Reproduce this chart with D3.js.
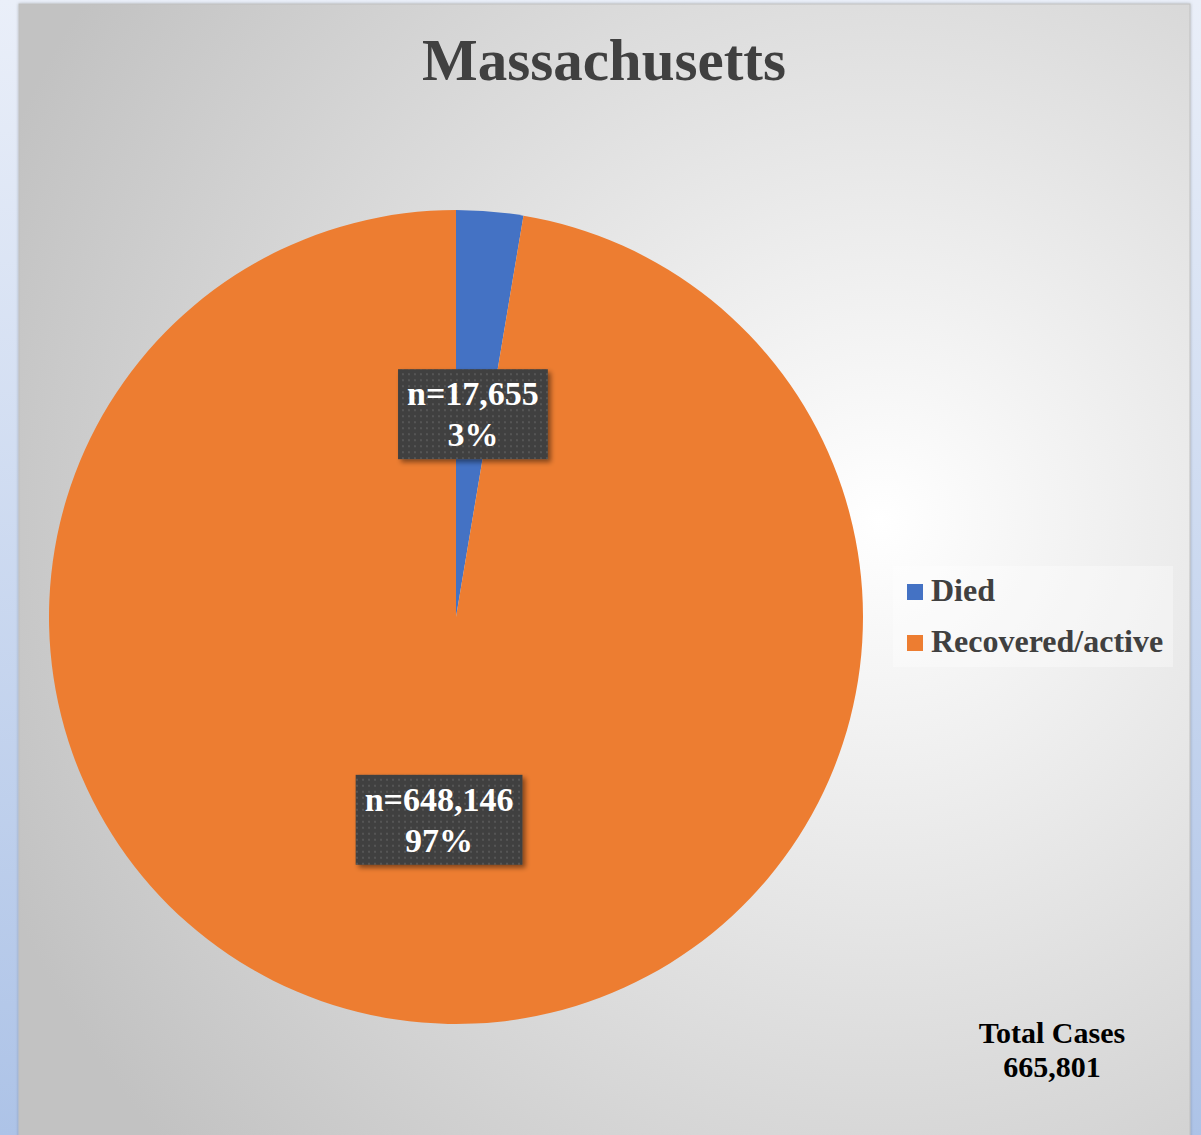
<!DOCTYPE html>
<html>
<head>
<meta charset="utf-8">
<script src="https://cdn.jsdelivr.net/npm/d3@7"></script>
<style>
  html, body { margin: 0; padding: 0; background: #e9eef8; }
  svg { display: block; }
  text { font-family: 'Liberation Serif', 'Times New Roman', serif; font-weight: bold; }
</style>
</head>
<body>
<svg width="1201" height="1135"></svg>
<script>
const categories = ['Died', 'Recovered/active'];
const counts = [17655, 648146];
const percents = ['3%', '97%'];
const colors = ['#4472C4', '#ED7D31'];
const title = 'Massachusetts';
const totalLabel = ['Total Cases', '665,801'];

const svg = d3.select('svg');
const width = +svg.attr('width');
const height = +svg.attr('height');

const defs = svg.append('defs');

// page background
const bg = defs.append('linearGradient').attr('id', 'bg')
  .attr('x1', 0).attr('y1', 0).attr('x2', 0).attr('y2', 1);
bg.append('stop').attr('offset', '0%').attr('stop-color', '#eaeff9');
bg.append('stop').attr('offset', '100%').attr('stop-color', '#adc3e7');

// panel gradient
const pg = defs.append('radialGradient').attr('id', 'panel')
  .attr('gradientUnits', 'userSpaceOnUse')
  .attr('cx', 880).attr('cy', 520).attr('r', 950);
pg.append('stop').attr('offset', '0%').attr('stop-color', '#ffffff');
pg.append('stop').attr('offset', '100%').attr('stop-color', '#c2c2c2');

// dotted label background
const pat = defs.append('pattern').attr('id', 'dots')
  .attr('patternUnits', 'userSpaceOnUse')
  .attr('width', 6).attr('height', 6);
pat.append('rect').attr('width', 6).attr('height', 6).attr('fill', '#404040');
pat.append('rect').attr('x', 1).attr('y', 1).attr('width', 2).attr('height', 2).attr('fill', '#555555');

const shadow = defs.append('filter').attr('id', 'shadow')
  .attr('x', '-20%').attr('y', '-20%').attr('width', '150%').attr('height', '150%');
shadow.append('feDropShadow').attr('dx', 3).attr('dy', 3).attr('stdDeviation', 2.5)
  .attr('flood-color', '#000').attr('flood-opacity', 0.45);

const panelShadow = defs.append('filter').attr('id', 'pshadow')
  .attr('x', '-5%').attr('y', '-5%').attr('width', '110%').attr('height', '110%');
panelShadow.append('feDropShadow').attr('dx', 0).attr('dy', 0).attr('stdDeviation', 1.5)
  .attr('flood-color', '#000').attr('flood-opacity', 0.25);

svg.append('rect').attr('width', width).attr('height', height).attr('fill', 'url(#bg)');

const panel = { x: 19, y: 4, w: 1171, h: 1140 };
svg.append('rect')
  .attr('x', panel.x).attr('y', panel.y)
  .attr('width', panel.w).attr('height', panel.h)
  .attr('fill', 'url(#panel)')
  .attr('stroke', '#c0c0c0')
  .attr('filter', 'url(#pshadow)');

// title
svg.append('text')
  .attr('x', 604).attr('y', 80)
  .attr('text-anchor', 'middle')
  .attr('font-size', 59)
  .attr('fill', '#404040')
  .text(title);

// pie
const cx = 456, cy = 617, radius = 407;
const data = categories.map((c, i) => ({ category: c, count: counts[i], pct: percents[i], color: colors[i] }));

const pie = d3.pie().sort(null).value(d => d.count);
const arc = d3.arc().innerRadius(0).outerRadius(radius);
const arcs = pie(data);

const g = svg.append('g').attr('transform', `translate(${cx},${cy})`);

g.selectAll('path.slice')
  .data(arcs)
  .enter()
  .append('path')
  .attr('class', 'slice')
  .attr('d', arc)
  .attr('fill', d => d.data.color);

// data labels
const fmt = d3.format(',');
const labels = g.selectAll('g.label')
  .data(arcs)
  .enter()
  .append('g')
  .attr('class', 'label')
  .attr('transform', d => {
    const [x, y] = arc.centroid(d);
    return `translate(${x},${y})`;
  });

labels.each(function (d) {
  const sel = d3.select(this);
  const line1 = 'n=' + fmt(d.data.count);
  const t = sel.append('text')
    .attr('text-anchor', 'middle')
    .attr('font-size', 34)
    .attr('fill', '#ffffff');
  t.append('tspan').attr('x', 0).attr('y', -9).text(line1);
  t.append('tspan').attr('x', 0).attr('y', 32).text(d.data.pct);
  const bb = t.node().getBBox();
  const padX = 9;
  sel.insert('rect', 'text')
    .attr('x', bb.x - padX)
    .attr('y', -45)
    .attr('width', bb.width + padX * 2)
    .attr('height', 90)
    .attr('fill', 'url(#dots)')
    .attr('filter', 'url(#shadow)');
});

// legend
const legend = svg.append('g').attr('transform', 'translate(893,566)');
legend.append('rect')
  .attr('width', 280).attr('height', 101)
  .attr('fill', '#ffffff').attr('opacity', 0.35);

const items = legend.selectAll('g.item')
  .data(data)
  .enter()
  .append('g')
  .attr('class', 'item')
  .attr('transform', (d, i) => `translate(14,${18 + i * 51})`);

items.append('rect')
  .attr('width', 16).attr('height', 16)
  .attr('fill', d => d.color);

items.append('text')
  .attr('x', 24).attr('y', 17)
  .attr('font-size', 32)
  .attr('fill', '#404040')
  .text(d => d.category);

// total cases note
const note = svg.append('text')
  .attr('text-anchor', 'middle')
  .attr('font-size', 30)
  .attr('fill', '#000000');
note.append('tspan').attr('x', 1052).attr('y', 1043).text(totalLabel[0]);
note.append('tspan').attr('x', 1052).attr('y', 1077).text(totalLabel[1]);
</script>
</body>
</html>
